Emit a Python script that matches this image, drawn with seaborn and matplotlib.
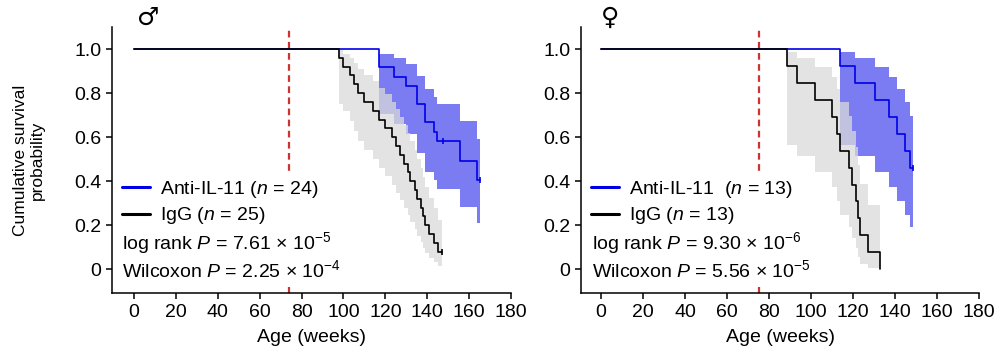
import numpy as np
import pandas as pd
import seaborn as sns
import matplotlib
matplotlib.use("Agg")
import matplotlib.pyplot as plt
from matplotlib.lines import Line2D

# ages (weeks) at death (event=1) or censoring (event=0)
male_anti_time = [117, 117, 124, 130, 135, 135, 139, 139, 143, 144.5, 147.6,
                  155.7, 155.7, 164, 164] + [165] * 9
male_anti_event = [1] * 10 + [0] + [1] * 4 + [0] * 9
male_igg_time = [98, 100, 103, 105, 107, 110, 114, 117, 120, 123, 125, 127, 129,
                 131, 132, 134, 135, 137, 138, 139, 141, 143, 145, 147, 147]
male_igg_event = [1] * 23 + [0] * 2

female_anti_time = [113.8, 121, 130.5, 137.3, 140.8, 144.8, 147.1] + [148.4] * 6
female_anti_event = [1] * 7 + [0] * 6
female_igg_time = [88.6, 93.2, 101.9, 109.8, 112.2, 113.8, 118, 119.4, 121.4,
                   122.2, 123.3, 127.3, 132.9]
female_igg_event = [1] * 13

male_labels = ["Anti-IL-11 ($\\it{n}$ = 24)", "IgG ($\\it{n}$ = 25)"]
female_labels = ["Anti-IL-11  ($\\it{n}$ = 13)", "IgG ($\\it{n}$ = 13)"]
male_pvals = ["log rank $\\it{P}$ = 7.61 × 10$^{-5}$", "Wilcoxon $\\it{P}$ = 2.25 × 10$^{-4}$"]
female_pvals = ["log rank $\\it{P}$ = 9.30 × 10$^{-6}$", "Wilcoxon $\\it{P}$ = 5.56 × 10$^{-5}$"]
treatment_start = [74, 75.2]


def km_table(times, events):
    # Kaplan-Meier with log(-log) Greenwood 95% CI
    times = np.asarray(times, float)
    events = np.asarray(events)
    rows = [(0.0, 1.0, 1.0, 1.0)]
    s, g = 1.0, 0.0
    for t in np.unique(times):
        n = np.sum(times >= t)
        d = np.sum((times == t) & (events == 1))
        if d:
            s *= 1 - d / n
            if n > d:
                g += d / (n * (n - d))
        if 0 < s < 1:
            c = np.log(-np.log(s))
            se = np.sqrt(g) / abs(np.log(s))
            lo = np.exp(-np.exp(c + 1.96 * se))
            hi = np.exp(-np.exp(c - 1.96 * se))
        else:
            lo = hi = s
        rows.append((t, s, lo, hi))
    return pd.DataFrame(rows, columns=["t", "s", "lo", "hi"])


sns.set_style("ticks")
plt.rcParams["font.family"] = ["Liberation Sans", "DejaVu Sans"]
plt.rcParams["mathtext.fontset"] = "custom"
plt.rcParams["mathtext.rm"] = "Liberation Sans"
plt.rcParams["mathtext.it"] = "Liberation Sans:italic"
plt.rcParams["axes.linewidth"] = 1.1
plt.rcParams["xtick.major.width"] = 1.1
plt.rcParams["ytick.major.width"] = 1.1
plt.rcParams["xtick.major.size"] = 4.5
plt.rcParams["ytick.major.size"] = 4.5
for k in ["text.color", "axes.labelcolor", "xtick.color", "ytick.color", "axes.edgecolor"]:
    plt.rcParams[k] = "black"

BLUE = "#0000e6"
BLUE_CI = "#7b7bf2"
GREY_CI = "#dadada"
RED = "#cc3333"
FS = 14

fig = plt.figure(figsize=(10, 3.61), dpi=100)
ax1 = fig.add_axes([0.112, 0.188, 0.399, 0.737])
ax2 = fig.add_axes([0.581, 0.188, 0.398, 0.737])

panels = [
    (ax1, male_anti_time, male_anti_event, male_igg_time, male_igg_event,
     male_labels, male_pvals, treatment_start[0], -10.5, "\u2642", 0.006, 0.025, 0.09),
    (ax2, female_anti_time, female_anti_event, female_igg_time, female_igg_event,
     female_labels, female_pvals, treatment_start[1], -9.5, "\u2640", 0.006, 0.028, 0.073),
]

for ax, at, ae, it, ie, labels, pvals, tx, x0, sym, lx, px, sx in panels:
    anti = km_table(at, ae)
    igg = km_table(it, ie)

    ax.axvline(tx, color=RED, lw=1.6, dashes=(3, 2), zorder=1)

    ax.fill_between(anti["t"], anti["lo"], anti["hi"], step="post",
                    color=BLUE_CI, lw=0, zorder=2)
    ax.fill_between(igg["t"], igg["lo"], igg["hi"], step="post",
                    color=GREY_CI, alpha=0.75, lw=0, zorder=3)

    sns.lineplot(data=anti, x="t", y="s", drawstyle="steps-post", color=BLUE,
                 lw=1.2, estimator=None, sort=False, ax=ax, zorder=4)
    sns.lineplot(data=igg, x="t", y="s", drawstyle="steps-post", color="black",
                 lw=1.2, estimator=None, sort=False, ax=ax, zorder=5)

    # censor ticks
    for tab, tt, ee, col in [(anti, at, ae, BLUE), (igg, it, ie, "black")]:
        ct = sorted(set(t for t, e in zip(tt, ee) if e == 0))
        cs = [tab.loc[tab["t"] == t, "s"].iloc[0] for t in ct]
        ax.plot(ct, cs, ls="none", marker="|", ms=5, mew=1.2, color=col, zorder=6)

    ax.set_xlim(x0, 180)
    ax.set_ylim(-0.109, 1.1)
    ax.set_xticks(range(0, 181, 20))
    ax.set_yticks([0, 0.2, 0.4, 0.6, 0.8, 1.0])
    ax.set_yticklabels(["0", "0.2", "0.4", "0.6", "0.8", "1.0"])
    ax.tick_params(labelsize=FS, pad=3)
    ax.set_xlabel("Age (weeks)", fontsize=FS, labelpad=6)
    ax.set_ylabel("")
    sns.despine(ax=ax)
    for sp in ax.spines.values():
        sp.set_zorder(9)

    handles = [Line2D([], [], color=BLUE, lw=2.2), Line2D([], [], color="black", lw=2.2)]
    leg = ax.legend(handles, labels, loc="upper left", bbox_to_anchor=(lx, 0.46),
                    borderaxespad=0, borderpad=0.4, handlelength=1.45, handletextpad=0.5,
                    labelspacing=0.3, fontsize=FS, frameon=True, fancybox=False)
    leg.get_frame().set_facecolor("white")
    leg.get_frame().set_edgecolor("none")
    leg.get_frame().set_alpha(1)
    leg.set_zorder(7)

    for y, txt in zip([0.188, 0.086], pvals):
        ax.text(px, y, txt, transform=ax.transAxes, fontsize=FS, va="center", ha="left",
                zorder=8, bbox=dict(facecolor="white", edgecolor="none", pad=4))

    ax.text(sx, 1.035, sym, transform=ax.transAxes, fontsize=18, ha="center",
            va="center", family=["DejaVu Sans"])

ax1.set_ylabel("Cumulative survival\nprobability", fontsize=12.5, labelpad=21)

fig.savefig("out.png", dpi=100)
